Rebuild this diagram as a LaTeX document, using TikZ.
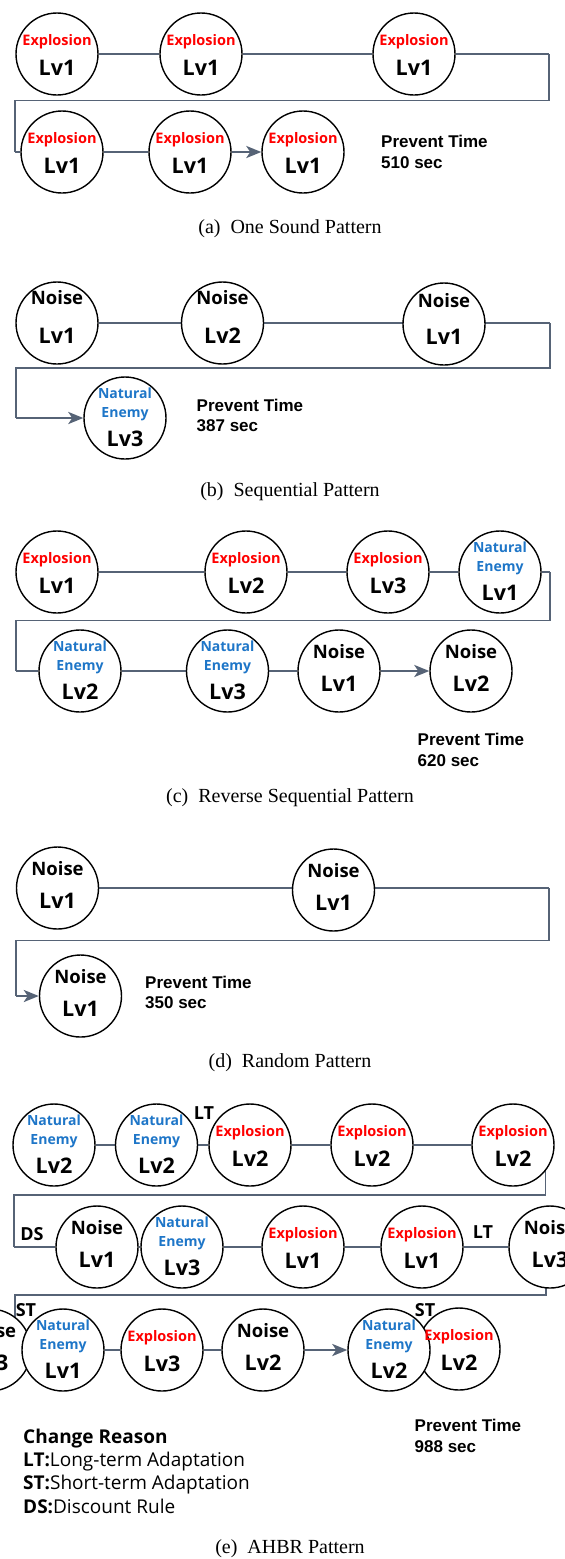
\documentclass[tikz,border=0pt]{standalone}
\usepackage{fontspec}
\usetikzlibrary{arrows.meta}
\newfontfamily\kfont{Open Sans}
\newfontfamily\afont{Liberation Sans}
\newfontfamily\tfont{Liberation Serif}
\definecolor{xred}{RGB}{255,0,0}
\definecolor{xblue}{RGB}{30,118,200}
\definecolor{lc}{RGB}{86,99,118}
\pgfdeclarelayer{back}
\pgfdeclarelayer{mid}
\pgfsetlayers{back,mid,main}
\newcommand{\ExpC}[2]{%
  \node[etxt] (#1-t) at ([yshift=14pt]#1.center) {Explosion};
  \node[lvtxt] (#1-l) at ([yshift=-14pt]#1.center) {Lv#2};}
\newcommand{\NoiC}[3][19]{%
  \node[noitxt] (#2-t) at ([yshift=#1pt]#2.center) {Noise};
  \node[lvtxt] (#2-l) at ([yshift=-13pt]#2.center) {Lv#3};}
\newcommand{\NatC}[2]{%
  \node[ntxt] (#1-t) at ([yshift=25pt]#1.center) {Natural};
  \node[ntxt] (#1-u) at ([yshift=6pt]#1.center) {Enemy};
  \node[lvtxt] (#1-l) at ([yshift=-21pt]#1.center) {Lv#2};}
\begin{document}
\begin{tikzpicture}[x=1pt,y=-1pt,
  bub/.style={circle,draw=black,line width=1.4pt,fill=white,minimum size=82pt,inner sep=0pt},
  etxt/.style={font=\kfont\bfseries\fontsize{14.5}{15}\selectfont,text=xred,inner sep=0pt,text height=10.4pt,text depth=0pt},
  ntxt/.style={font=\kfont\bfseries\fontsize{14}{15}\selectfont,text=xblue,inner sep=0pt,text height=10pt,text depth=0pt},
  noitxt/.style={font=\kfont\bfseries\fontsize{18.5}{19}\selectfont,text=black,inner sep=0pt,text height=13.2pt,text depth=0pt},
  lvtxt/.style={font=\kfont\bfseries\fontsize{21.5}{22}\selectfont,text=black,inner sep=0pt,text height=15.3pt,text depth=0pt},
  pttxt/.style={font=\afont\bfseries\fontsize{17}{18}\selectfont,anchor=west,inner sep=0pt,text height=12.2pt,text depth=0pt},
  captxt/.style={font=\tfont\fontsize{20}{22}\selectfont,inner sep=0pt,text height=13.4pt,text depth=0pt},
  lbltxt/.style={font=\kfont\bfseries\fontsize{18}{19}\selectfont,inner sep=0pt,text height=12.8pt,text depth=0pt},
  crtxt/.style={font=\kfont\fontsize{19}{20}\selectfont,anchor=west,inner sep=0pt,text height=13.5pt,text depth=0pt},
  conn/.style={draw=lc,line width=2.6pt},
  loopln/.style={draw=lc,line width=1.8pt},
  arr/.style={-{Stealth[length=15pt,width=12pt,inset=4pt]}}]
\useasboundingbox (0,0) rectangle (565,1559);
\begin{pgfonlayer}{back}
\fill[white] (0,0) rectangle (565,1559);
\end{pgfonlayer}

% ---------------- (a) ----------------
\node[bub] (a1) at (57,54) {};
\node[bub] (a2) at (201,54) {};
\node[bub] (a3) at (414,54) {};
\node[bub] (a4) at (62,152) {};
\node[bub] (a5) at (190,152) {};
\node[bub] (a6) at (303,152) {};
\coordinate (aR) at (549,100.5);
\coordinate (aL) at (15,100.5);
\begin{pgfonlayer}{mid}
\draw[conn] (a1) -- (a2) -- (a3) -- (a3 -| aR);
\draw[loopln] (a3 -| aR) -- (aR) -- (aL) -- (aL |- a4);
\draw[conn] (aL |- a4) -- (a4) -- (a5);
\draw[conn,arr] (a5) -- (a6);
\end{pgfonlayer}
\ExpC{a1}{1}\ExpC{a2}{1}\ExpC{a3}{1}\ExpC{a4}{1}\ExpC{a5}{1}\ExpC{a6}{1}
\node[pttxt] (apt1) at (381,141) {Prevent Time};
\node[pttxt] (apt2) at (381,162.5) {510 sec};
\node[captxt] (acap) at (290,226.5) {(a)\hspace{0.5em}One Sound Pattern};

% ---------------- (b) ----------------
\node[bub] (b1) at (57,323) {};
\node[bub] (b2) at (222.5,323) {};
\node[bub] (b3) at (444,324) {};
\node[bub] (b4) at (125,418) {};
\coordinate (bR) at (550,368);
\coordinate (bL) at (16,368);
\begin{pgfonlayer}{mid}
\draw[conn] (b1) -- (b2) -- (b2 -| b3) -- (b2 -| bR);
\draw[loopln] (b2 -| bR) -- (bR) -- (bL) -- (bL |- b4);
\draw[conn,arr] (bL |- b4) -- (b4);
\end{pgfonlayer}
\NoiC[25]{b1}{1}\NoiC[25]{b2}{2}\NoiC[23]{b3}{1}\NatC{b4}{3}
\node[pttxt] (bpt1) at (196.5,405) {Prevent Time};
\node[pttxt] (bpt2) at (196.5,425) {387 sec};
\node[captxt] (bcap) at (290,490) {(b)\hspace{0.5em}Sequential Pattern};

% ---------------- (c) ----------------
\node[bub] (c1) at (57,572) {};
\node[bub] (c2) at (246,572) {};
\node[bub] (c3) at (388,572) {};
\node[bub] (c4) at (500,572) {};
\node[bub] (c5) at (80,671) {};
\node[bub] (c6) at (227.5,671) {};
\node[bub] (c7) at (339,671) {};
\node[bub] (c8) at (471,671) {};
\coordinate (cR) at (550,620.5);
\coordinate (cL) at (16,620.5);
\begin{pgfonlayer}{mid}
\draw[conn] (c1) -- (c2) -- (c3) -- (c4) -- (c4 -| cR);
\draw[loopln] (c4 -| cR) -- (cR) -- (cL) -- (cL |- c5);
\draw[conn] (cL |- c5) -- (c5) -- (c6) -- (c7);
\draw[conn,arr] (c7) -- (c8);
\end{pgfonlayer}
\ExpC{c1}{1}\ExpC{c2}{2}\ExpC{c3}{3}\NatC{c4}{1}
\NatC{c5}{2}\NatC{c6}{3}\NoiC{c7}{1}\NoiC{c8}{2}
\node[pttxt] (cpt1) at (417.5,739) {Prevent Time};
\node[pttxt] (cpt2) at (417.5,760) {620 sec};
\node[captxt] (ccap) at (290,796) {(c)\hspace{0.5em}Reverse Sequential Pattern};

% ---------------- (d) ----------------
\node[bub] (d1) at (57.5,888) {};
\node[bub] (d2) at (333.5,890) {};
\node[bub] (d3) at (80.5,996) {};
\coordinate (dR) at (549,940.5);
\coordinate (dL) at (16,940.5);
\begin{pgfonlayer}{mid}
\draw[conn] (d1) -- (d1 -| d2) -- (d1 -| dR);
\draw[loopln] (d1 -| dR) -- (dR) -- (dL) -- (dL |- d3);
\draw[conn,arr] (dL |- d3) -- (d3);
\end{pgfonlayer}
\NoiC{d1}{1}\NoiC{d2}{1}\NoiC{d3}{1}
\node[pttxt] (dpt1) at (145,982) {Prevent Time};
\node[pttxt] (dpt2) at (145,1002) {350 sec};
\node[captxt] (dcap) at (290,1061) {(d)\hspace{0.5em}Random Pattern};

% ---------------- (e) ----------------
\node[bub] (e1) at (54,1145) {};
\node[bub] (e2) at (156.5,1145) {};
\node[bub] (e3) at (250,1145) {};
\node[bub] (e4) at (372,1145) {};
\node[bub] (e5) at (513,1145) {};
\node[bub] (e6) at (97,1247) {};
\node[bub] (e7) at (182,1247) {};
\node[bub] (e8) at (303,1247) {};
\node[bub] (e9) at (422,1247) {};
\node[bub] (e10) at (550,1247) {};
\node[bub] (e11) at (-10,1350) {};
\node[bub] (e12) at (63,1350) {};
\node[bub] (e13) at (162,1350) {};
\node[bub] (e14) at (263,1350) {};
\node[bub] (e16) at (459,1349) {};
\node[bub] (e15) at (389,1350) {};
\coordinate (eL1) at (14,1195);
\coordinate (eL2) at (15,1295);
\begin{pgfonlayer}{mid}
\draw[conn] (e1) -- (e2) -- (e3) -- (e4) -- (e5);
\draw[loopln] (e5.-39) |- (eL1) -- (eL1 |- e6);
\draw[conn] (eL1 |- e6) -- (e6) -- (e7) -- (e8) -- (e9) -- (e10);
\draw[loopln] (e10.-96) |- (eL2) |- (e11);
\draw[conn] (e12) -- (e13) -- (e14);
\draw[conn,arr] (e14) -- (e15);
\end{pgfonlayer}
\NatC{e1}{2}\NatC{e2}{2}\ExpC{e3}{2}\ExpC{e4}{2}\ExpC{e5}{2}
\NoiC{e6}{1}\NatC{e7}{3}\ExpC{e8}{1}\ExpC{e9}{1}\NoiC{e10}{3}
\NoiC{e11}{3}\NatC{e12}{1}\ExpC{e13}{3}\NoiC{e14}{2}\NatC{e15}{2}\ExpC{e16}{2}
\node[lbltxt] (lt1) at (204,1113) {LT};
\node[lbltxt] (ds1) at (32,1234) {DS};
\node[lbltxt] (lt2) at (483,1232) {LT};
\node[lbltxt] (st1) at (26,1310) {ST};
\node[lbltxt] (st2) at (425,1310) {ST};
\node[crtxt] (cr0) at (23,1437) {\bfseries Change Reason};
\node[crtxt] (cr1) at (23,1460) {\textbf{LT:}Long-term Adaptation};
\node[crtxt] (cr2) at (23,1483) {\textbf{ST:}Short-term Adaptation};
\node[crtxt] (cr3) at (23,1507) {\textbf{DS:}Discount Rule};
\node[pttxt] (ept1) at (414.5,1425) {Prevent Time};
\node[pttxt] (ept2) at (414.5,1446) {988 sec};
\node[captxt] (ecap) at (290,1547) {(e)\hspace{0.5em}AHBR Pattern};
\end{tikzpicture}
\end{document}
